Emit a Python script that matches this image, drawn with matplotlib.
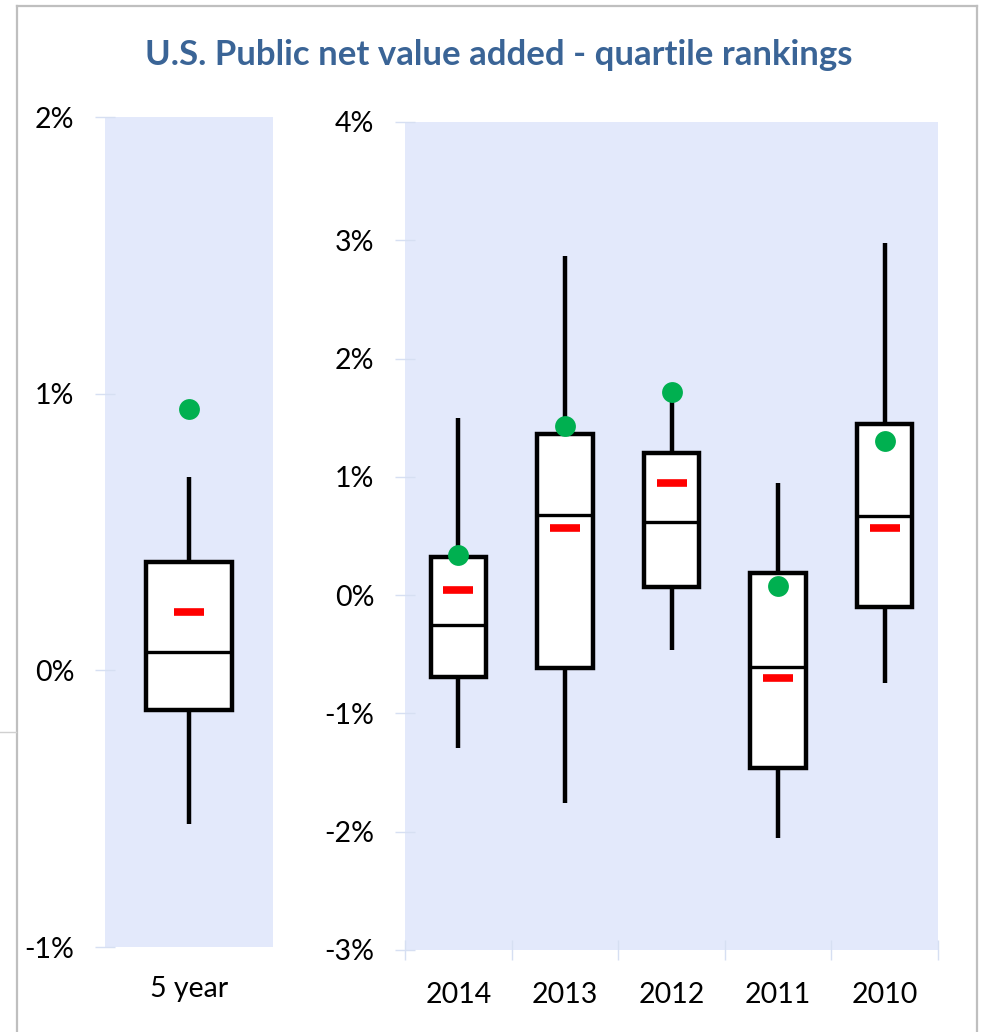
import matplotlib
matplotlib.use("Agg")
import matplotlib.pyplot as plt
from matplotlib.lines import Line2D
from matplotlib.ticker import FuncFormatter, FixedLocator

# ---- data (percent) ----
left_cat = ["5 year"]
left_whislo = [-0.556]
left_q1 = [-0.145]
left_med = [0.065]
left_q3 = [0.39]
left_whishi = [0.70]
left_mean = [0.21]
left_bench = [0.946]

years = ["2014", "2013", "2012", "2011", "2010"]
whislo = [-1.29, -1.76, -0.46, -2.05, -0.74]
q1 = [-0.69, -0.62, 0.07, -1.46, -0.10]
med = [-0.25, 0.68, 0.62, -0.61, 0.67]
q3 = [0.32, 1.36, 1.20, 0.19, 1.45]
whishi = [1.50, 2.87, 1.70, 0.95, 2.98]
mean = [0.04, 0.57, 0.95, -0.70, 0.57]
bench = [0.34, 1.43, 1.72, 0.08, 1.30]

left_yticks = [-1, 0, 1, 2]
right_yticks = [-3, -2, -1, 0, 1, 2, 3, 4]

FONT = "Lato"
BG = "#E3E9FB"
TICKC = "#D6DFF2"
GREEN = "#00B050"
RED = "#FF0000"
TITLEC = "#3A6496"
LS = 20.5

plt.rcParams["font.family"] = [FONT, "DejaVu Sans"]

W, H = 983, 1032
fig = plt.figure(figsize=(W / 100, H / 100), dpi=100)


def px_axes(x0, y0, x1, y1):
    return fig.add_axes([x0 / W, 1 - y1 / H, (x1 - x0) / W, (y1 - y0) / H])


axL = px_axes(105, 117, 273, 947)
axR = px_axes(405, 122, 938, 950)


def draw(ax, cats, lo, a, m, b, hi, mn, bm, width):
    stats = []
    for i in range(len(cats)):
        stats.append(dict(whislo=lo[i], q1=a[i], med=m[i], q3=b[i], whishi=hi[i], fliers=[]))
    pos = list(range(1, len(cats) + 1))
    ax.bxp(stats, positions=pos, widths=width, showcaps=False, showfliers=False,
           patch_artist=True,
           boxprops=dict(facecolor="white", edgecolor="black", linewidth=3.2),
           whiskerprops=dict(color="black", linewidth=3.2, solid_capstyle="butt"),
           medianprops=dict(color="black", linewidth=2.4),
           zorder=2)
    ax.plot(pos, mn, linestyle="none", marker="_", markersize=21, markeredgewidth=5.5,
            color=RED, zorder=4)
    ax.plot(pos, bm, linestyle="none", marker="o", markersize=15, color=GREEN,
            markeredgewidth=0, zorder=5)
    ax.set_facecolor(BG)
    for s in ax.spines.values():
        s.set_visible(False)
    ax.yaxis.set_major_formatter(FuncFormatter(lambda v, p: f"{v:.0f}%"))
    ax.tick_params(axis="y", direction="inout", length=14.4, width=1.0, color=TICKC,
                   labelsize=LS, pad=15, labelcolor="black")


draw(axL, left_cat, left_whislo, left_q1, left_med, left_q3, left_whishi,
     left_mean, left_bench, 0.51)
axL.set_ylim(-1, 2)
axL.set_yticks(left_yticks)
axL.set_xlim(0.5, 1.5)
axL.set_xticks([1])
axL.set_xticklabels(left_cat)
axL.tick_params(axis="x", length=0, labelsize=LS, pad=21)

draw(axR, years, whislo, q1, med, q3, whishi, mean, bench, 0.52)
axR.set_ylim(-3, 4)
axR.set_yticks(right_yticks)
axR.set_xlim(0.5, len(years) + 0.5)
axR.set_xticks(range(1, len(years) + 1))
axR.set_xticklabels(years)
axR.tick_params(axis="x", which="major", length=0, labelsize=LS, pad=23)
axR.xaxis.set_minor_locator(FixedLocator([i + 0.5 for i in range(len(years) + 1)]))
axR.tick_params(axis="x", which="minor", direction="inout", length=14.4, width=1.0,
                color=TICKC)

fig.text(499 / W, 1 - 55 / H, "U.S. Public net value added - quartile rankings",
         ha="center", va="center", fontsize=25, fontweight="bold", color=TITLEC)

# chart border
bc = "#BFBFBF"
fig.add_artist(Line2D([17 / W, 17 / W], [0, 1 - 6 / H], color=bc, linewidth=1.6,
                      transform=fig.transFigure))
fig.add_artist(Line2D([17 / W, 977 / W], [1 - 6 / H, 1 - 6 / H], color=bc, linewidth=1.6,
                      transform=fig.transFigure))
fig.add_artist(Line2D([977 / W, 977 / W], [0, 1 - 6 / H], color=bc, linewidth=1.6,
                      transform=fig.transFigure))
fig.add_artist(Line2D([0, 16 / W], [1 - 732 / H, 1 - 732 / H], color="#D0D0D0",
                      linewidth=1.0, transform=fig.transFigure))

fig.savefig("out.png", dpi=100)
